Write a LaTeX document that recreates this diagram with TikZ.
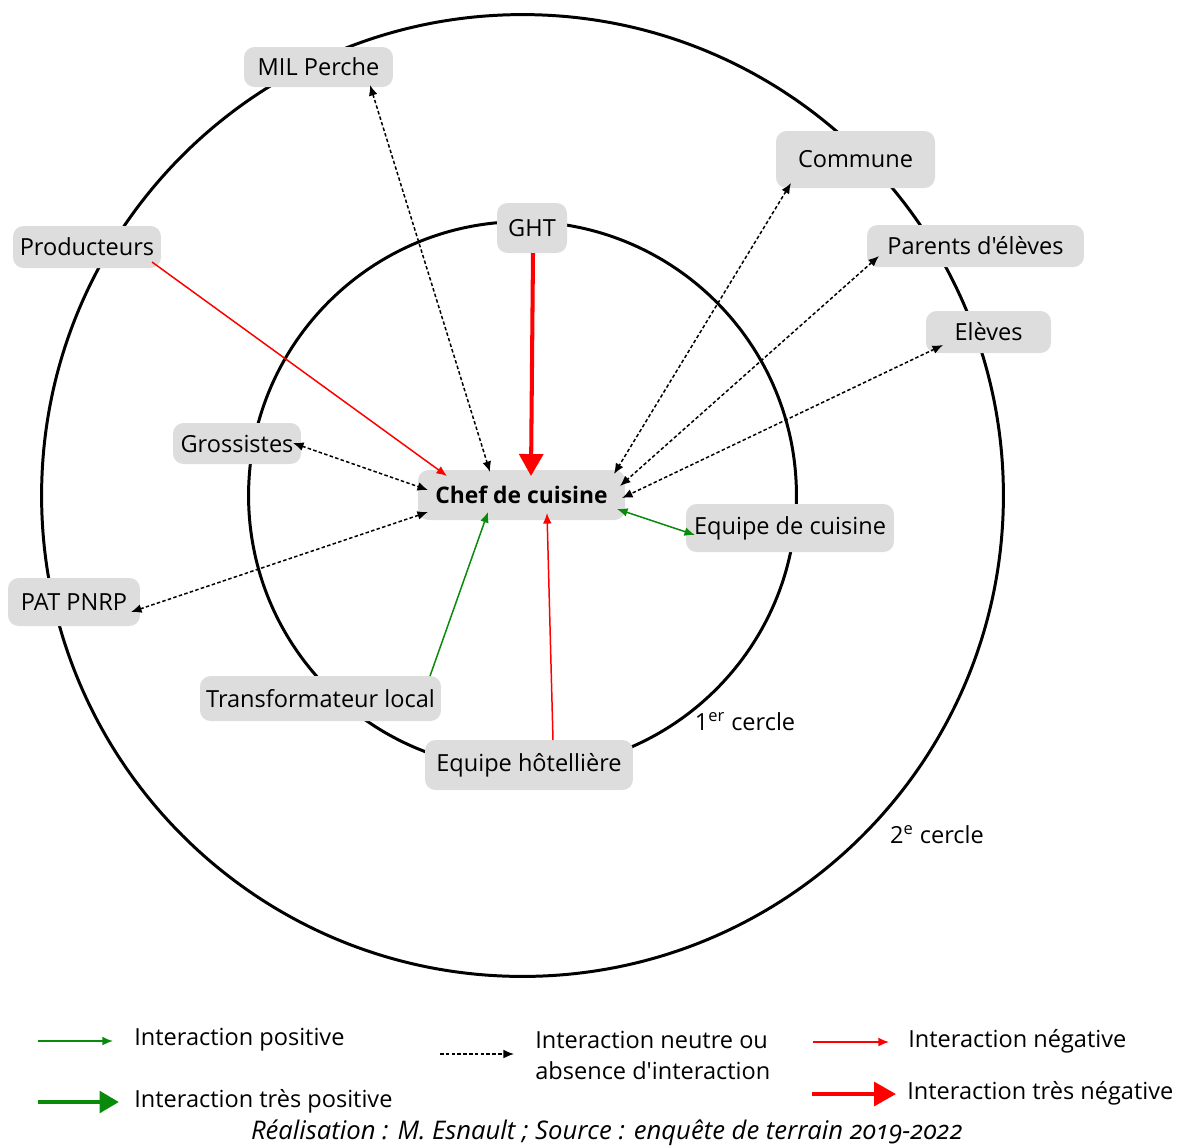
\documentclass[tikz,border=0pt]{standalone}
\usepackage{fontspec}
\setmainfont{Open Sans}[Ligatures=TeXOff]
\usetikzlibrary{arrows.meta,calc}
\definecolor{boxgray}{HTML}{DDDDDD}
\definecolor{posgreen}{HTML}{0A8A0A}
\definecolor{negred}{HTML}{FF0000}
\begin{document}
\begin{tikzpicture}[x=0.02cm,y=-0.02cm,
  box/.style={fill=boxgray, rounded corners=6pt, inner sep=0pt, font=\fontsize{13.4}{15}\selectfont},
  ring/.style={line width=1.7pt, draw=black},
  neutralarrow/.style={dash pattern=on 2pt off 1.3pt, line width=0.85pt, black, {Latex[length=6pt,width=5pt]}-{Latex[length=6pt,width=5pt]}},
  posarrow/.style={line width=0.85pt, posgreen, -{Latex[length=6pt,width=5pt]}},
  posboth/.style={line width=0.85pt, posgreen, {Latex[length=6pt,width=5pt]}-{Latex[length=6pt,width=5pt]}},
  negarrow/.style={line width=0.85pt, negred, -{Latex[length=6pt,width=5pt]}},
  veryposarrow/.style={line width=2.8pt, posgreen, -{Triangle[length=11pt,width=12pt]}},
  verynegarrow/.style={line width=2.3pt, negred, -{Triangle[length=12.5pt,width=13.5pt]}},
  legtext/.style={anchor=west, inner sep=0pt, font=\fontsize{13.4}{15}\selectfont, align=left},
]
\useasboundingbox (0,0) rectangle (1182,1147);
% circles
\coordinate (ctr) at (522.5,495.5);
\draw[ring] (ctr) circle[radius=9.62cm];
\draw[ring] (ctr) circle[radius=5.48cm];

% nodes
\node[box, minimum width=2.98cm, minimum height=0.80cm] (mil) at (318.5,67) {MIL Perche};
\node[box, minimum width=3.18cm, minimum height=1.14cm] (com) at (855.5,159.5) {Commune};
\node[box, minimum width=1.40cm, minimum height=1.00cm] (ght) at (532,228) {GHT};
\node[box, minimum width=2.96cm, minimum height=0.84cm] (prod) at (87,247) {Producteurs};
\node[box, minimum width=4.34cm, minimum height=0.84cm] (par) at (975.5,246) {Parents d'élèves};
\node[box, minimum width=2.50cm, minimum height=0.84cm] (elv) at (988.5,332) {Elèves};
\node[box, minimum width=2.56cm, minimum height=0.82cm] (gros) at (237,443.5) {Grossistes};
\node[box, minimum width=4.14cm, minimum height=1.00cm, font=\fontsize{13}{15}\selectfont\bfseries] (chef) at (521.5,495) {Chef de cuisine};
\node[box, minimum width=4.16cm, minimum height=0.96cm] (ecu) at (790,528) {Equipe de cuisine};
\node[box, minimum width=2.64cm, minimum height=0.96cm] (pat) at (74,602) {PAT PNRP};
\node[box, minimum width=4.82cm, minimum height=0.90cm] (trf) at (320.5,698.5) {Transformateur local};
\node[box, minimum width=4.16cm, minimum height=1.00cm] (eho) at (529,765) {Equipe hôtellière};

\node[inner sep=0pt, font=\fontsize{13.4}{15}\selectfont] (c1) at (745,722) {1\textsuperscript{er} cercle};
\node[inner sep=0pt, font=\fontsize{13.4}{15}\selectfont] (c2) at (937,835) {2\textsuperscript{e} cercle};

% connectors
\draw[neutralarrow] ($(mil)+(51.5,18)$) -- ($(chef)+(-31.5,-23)$);
\draw[negarrow] ($(prod)+(65,15)$) -- ($(chef)+(-74.5,-19)$);
\draw[verynegarrow] ($(ght)+(1,25)$) -- ($(chef)+(9.5,-19)$);
\draw[neutralarrow] ($(com)+(-64.5,23.5)$) -- ($(chef)+(92.5,-21)$);
\draw[neutralarrow] ($(par)+(-96.5,10)$) -- ($(chef)+(98.5,-9)$);
\draw[neutralarrow] ($(elv)+(-45.5,13)$) -- ($(chef)+(100.5,3)$);
\draw[neutralarrow] ($(gros)+(56,-0.5)$) -- ($(chef)+(-93.5,-5)$);
\draw[neutralarrow] ($(pat)+(57,10)$) -- ($(chef)+(-93.5,17)$);
\draw[posarrow] ($(trf)+(109.5,-22.5)$) -- ($(chef)+(-33.5,17)$);
\draw[negarrow] ($(eho)+(24,-25)$) -- ($(chef)+(25.5,18)$);
\draw[posboth] ($(chef)+(95.5,14)$) -- ($(ecu)+(-95,7)$);

% legend
\coordinate (l1a) at (38,1041); \coordinate (l1b) at (113,1041);
\coordinate (l2a) at (38,1102); \coordinate (l2b) at (119,1102);
\coordinate (l3a) at (440,1054); \coordinate (l3b) at (514,1054);
\coordinate (l4a) at (813,1042); \coordinate (l4b) at (889,1042);
\coordinate (l5a) at (812,1094); \coordinate (l5b) at (896,1094);
\draw[posarrow] (l1a) -- (l1b);
\draw[veryposarrow] (l2a) -- (l2b);
\draw[dash pattern=on 2pt off 1.3pt, line width=0.85pt, -{Latex[length=6pt,width=5pt]}] (l3a) -- (l3b);
\draw[negarrow] (l4a) -- (l4b);
\draw[verynegarrow] (l5a) -- (l5b);
\node[legtext] (t1) at (134,1040) {Interaction positive};
\node[legtext] (t2) at (134,1101) {Interaction très positive};
\node[legtext, font=\fontsize{13.4}{17.5}\selectfont] (t3) at (535,1055.5) {Interaction neutre ou\\absence d'interaction};
\node[legtext] (t4) at (908,1041) {Interaction négative};
\node[legtext] (t5) at (907,1093) {Interaction très négative};
\node[inner sep=0pt, font=\fontsize{14.6}{16}\selectfont\itshape\addfontfeatures{Numbers=OldStyle}] (foot) at (607,1133) {Réalisation : M. Esnault ; Source : enquête de terrain 2019-2022};
\end{tikzpicture}
\end{document}
